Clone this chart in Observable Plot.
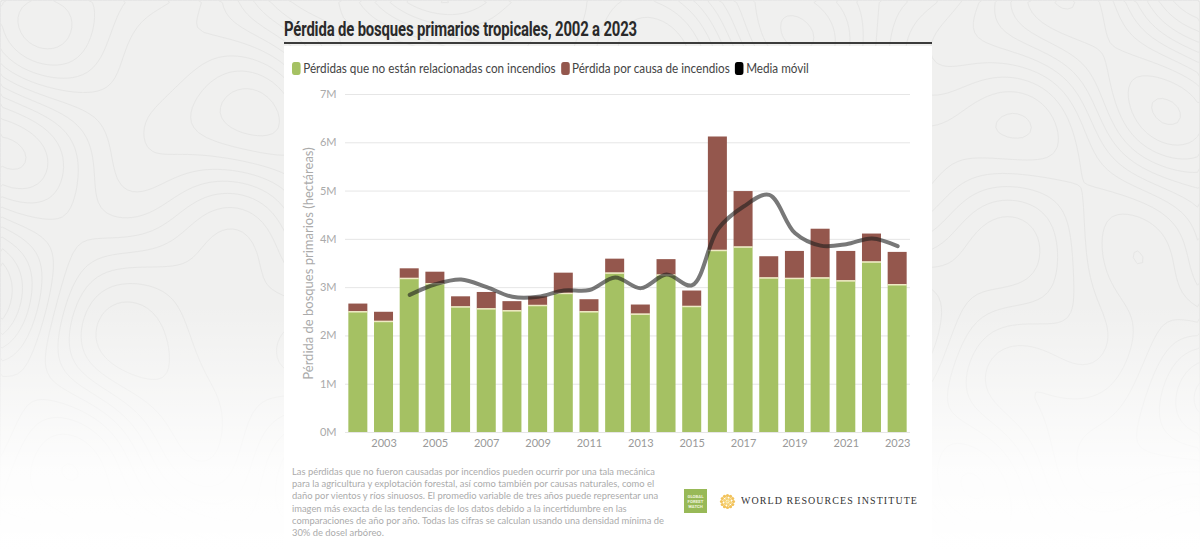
<!DOCTYPE html>
<html>
<head>
<meta charset="utf-8">
<script src="https://cdn.jsdelivr.net/npm/d3@7"></script>
<script src="https://cdn.jsdelivr.net/npm/@observablehq/plot@0.6"></script>
<style>
html, body { margin: 0; padding: 0; width: 1200px; height: 551px; overflow: hidden; }
body { position: relative; background: #f0f0ef; font-family: Lato, "Noto Sans", sans-serif; }
#topo { position: absolute; left: 0; top: 0; }
#fade { position: absolute; left: 0; top: 0; width: 1200px; height: 551px;
  background: linear-gradient(rgba(255,255,255,0) 0%, rgba(255,255,255,0) 55%, rgba(255,255,255,0.85) 85%, #fff 100%); }
#panel { position: absolute; left: 284px; top: 46px; width: 648px; height: 505px; background: #fff; }
#title { position: absolute; left: 284px; top: 17px; font: bold 20px Roboto, sans-serif; color: #2a2a2a;
  white-space: nowrap; transform-origin: left top; letter-spacing: -0.2px; }
#rule { position: absolute; left: 284px; top: 42px; width: 648px; height: 2px; background: #3b3b3b; }
#legend { position: absolute; left: 292px; top: 60px; height: 16px; display: flex; align-items: center;
  font-size: 13.6px; color: #444; white-space: nowrap; font-family: Lato, sans-serif; transform-origin: left center; }
#legend .item { display: flex; align-items: center; margin-right: 6px; }
#legend .sw { width: 10px; height: 13px; border-radius: 3px; margin-right: 3px; }
#chart { position: absolute; left: 284px; top: 84px; }
#note { position: absolute; left: 292px; top: 465px; font-size: 10.4px; line-height: 12.2px; color: #ababab;
  white-space: nowrap; font-family: Lato, sans-serif; transform-origin: left top; }
#gfw { position: absolute; left: 684px; top: 489px; width: 23px; height: 24px; background: #98b957;
  color: #eef3dc; font: bold 4.3px/5px Roboto, sans-serif; text-align: center; display: flex; flex-direction: column; justify-content: center; }
#wriicon { position: absolute; left: 719px; top: 493px; }
#wri { position: absolute; left: 741px; top: 494px; font: 11px "Liberation Serif", "DejaVu Serif", serif;
  letter-spacing: 1.2px; color: #333; white-space: nowrap; transform-origin: left top; }
</style>
</head>
<body>
<svg id="topo" width="1200" height="551"></svg>
<div id="fade"></div>
<div id="panel"></div>
<div id="title">Pérdida de bosques primarios tropicales, 2002 a 2023</div>
<div id="rule"></div>
<div id="legend"></div>
<div id="chart"></div>
<div id="note">Las pérdidas que no fueron causadas por incendios pueden ocurrir por una tala mecánica<br>para la agricultura y explotación forestal, así como también por causas naturales, como el<br>daño por vientos y ríos sinuosos. El promedio variable de tres años puede representar una<br>imagen más exacta de las tendencias de los datos debido a la incertidumbre en las<br>comparaciones de año por año. Todas las cifras se calculan usando una densidad mínima de<br>30% de dosel arbóreo.</div>
<div id="gfw"><div>GLOBAL</div><div>FOREST</div><div>WATCH</div></div>
<svg id="wriicon" width="17" height="17" viewBox="-8.5 -8.5 17 17"></svg>
<div id="wri">WORLD RESOURCES INSTITUTE</div>
<script>
// ---- Data (millions of hectares) ----
const years = [2002, 2003, 2004, 2005, 2006, 2007, 2008, 2009, 2010, 2011, 2012,
               2013, 2014, 2015, 2016, 2017, 2018, 2019, 2020, 2021, 2022, 2023];
const nonFireLoss = [2.50, 2.30, 3.19, 3.08, 2.60, 2.56, 2.52, 2.63, 2.88, 2.50, 3.30,
                     2.45, 3.26, 2.61, 3.77, 3.84, 3.20, 3.19, 3.20, 3.14, 3.53, 3.06];
const fireLoss    = [0.16, 0.19, 0.20, 0.24, 0.21, 0.34, 0.19, 0.18, 0.42, 0.25, 0.29,
                     0.19, 0.32, 0.32, 2.35, 1.15, 0.44, 0.56, 1.01, 0.61, 0.58, 0.67];
const avgYears  = [2004, 2005, 2006, 2007, 2008, 2009, 2010, 2011, 2012, 2013,
                   2014, 2015, 2016, 2017, 2018, 2019, 2020, 2021, 2022, 2023];
const movingAvg = [2.85, 3.07, 3.17, 3.01, 2.81, 2.81, 2.94, 2.95, 3.21, 2.99,
                   3.27, 3.05, 4.21, 4.68, 4.92, 4.13, 3.87, 3.90, 4.02, 3.86];
const xTickLabels = [2003, 2005, 2007, 2009, 2011, 2013, 2015, 2017, 2019, 2021, 2023];
const yTicks = [0, 1, 2, 3, 4, 5, 6, 7];
const seriesNames = ["Pérdidas que no están relacionadas con incendios", "Pérdida por causa de incendios", "Media móvil"];
const seriesColors = ["#a5c163", "#94574d", "#000000"];
const yLabel = "Pérdida de bosques primarios (hectáreas)";

// ---- Decorative topographic background ----
(function(){
  const W = 240, H = 111, s = 5;
  const vals = new Array(W * H);
  for (let j = 0; j < H; j++) for (let i = 0; i < W; i++) {
    const x = i / W * 12, y = j / H * 5.5;
    vals[j * W + i] = Math.sin(x * 0.9 + Math.cos(y * 1.3)) * Math.cos(y * 1.1 - x * 0.35)
      + 0.6 * Math.sin(x * 1.7 + y * 0.8) * Math.cos(y * 2.1 + x * 0.3)
      + 0.35 * Math.cos(x * 2.9 - y * 1.9);
  }
  const cs = d3.contours().size([W, H]).thresholds(d3.range(-1.8, 1.9, 0.25))(vals);
  const path = d3.geoPath(d3.geoIdentity().scale(s));
  d3.select("#topo").selectAll("path").data(cs).join("path")
    .attr("d", path).attr("fill", "none").attr("stroke", "#e6e6e5").attr("stroke-width", 1);
})();

// ---- WRI icon ----
(function(){
  const g = d3.select("#wriicon");
  for (let k = 0; k < 12; k++) {
    const a = k / 12 * 2 * Math.PI;
    g.append("circle").attr("cx", 6 * Math.cos(a)).attr("cy", 6 * Math.sin(a)).attr("r", 1.6).attr("fill", "#f2c25a");
  }
  for (let k = 0; k < 6; k++) {
    const a = k / 6 * 2 * Math.PI + 0.3;
    g.append("circle").attr("cx", 3 * Math.cos(a)).attr("cy", 3 * Math.sin(a)).attr("r", 1.5).attr("fill", "#f5d070");
  }
  g.append("circle").attr("r", 1.3).attr("fill", "#f7d97a");
})();

// ---- Legend ----
(function(){
  const lg = d3.select("#legend");
  seriesNames.forEach((n, i) => {
    const it = lg.append("div").attr("class", "item");
    it.append("div").attr("class", "sw").style("background", seriesColors[i]);
    it.append("span").text(n);
  });
})();

// ---- Fit text widths to the reference layout ----
function fitWidth(id, target) {
  const el = document.getElementById(id);
  const w = el.getBoundingClientRect().width;
  el.style.transform = `scaleX(${target / w})`;
}
fitWidth("title", 353);
fitWidth("legend", 522);
fitWidth("note", 372);
fitWidth("wri", 177);

// ---- Chart ----
const rows = [];
years.forEach((yr, i) => {
  rows.push({year: yr, type: seriesNames[0], value: nonFireLoss[i]});
  rows.push({year: yr, type: seriesNames[1], value: fireLoss[i]});
});
const sepRows = years.map((yr, i) => ({year: yr, value: nonFireLoss[i]}));
const avgRows = avgYears.map((yr, i) => ({year: yr, value: movingAvg[i]}));

const chart = Plot.plot({
  width: 648,
  height: 372,
  marginLeft: 61,
  marginRight: 22,
  marginTop: 10,
  marginBottom: 24,
  style: {fontFamily: "Lato, sans-serif", background: "transparent", overflow: "visible"},
  x: {type: "band", domain: years, paddingInner: 0.26, paddingOuter: 0.13, round: false, axis: null},
  y: {domain: [0, 7], axis: null},
  color: {domain: seriesNames.slice(0, 2), range: seriesColors.slice(0, 2)},
  marks: [
    Plot.gridY(yTicks, {stroke: "#e6e6e6", strokeOpacity: 1, strokeWidth: 1}),
    Plot.axisY(yTicks, {tickSize: 0, tickPadding: 9, fontSize: 11, fill: "#aaa", label: null,
      tickFormat: d => d + "M"}),
    Plot.axisX(xTickLabels, {tickSize: 0, tickPadding: 7, fontSize: 11, fill: "#999", label: null,
      tickFormat: d => String(d)}),
    Plot.text([yLabel], {frameAnchor: "left", rotate: -90, dx: -37, textAnchor: "middle",
      fontSize: 13, fill: "#aaa", text: d => d}),
    Plot.barY(rows, {x: "year", y: "value", fill: "type", order: seriesNames.slice(0, 2)}),
    Plot.tickY(sepRows, {x: "year", y: "value", stroke: "#efeac4", strokeWidth: 1.5}),
    Plot.line(avgRows, {x: "year", y: "value", curve: "catmull-rom", stroke: "#1e1e1e",
      strokeOpacity: 0.6, strokeWidth: 4})
  ]
});
document.getElementById("chart").appendChild(chart);
</script>
</body>
</html>
